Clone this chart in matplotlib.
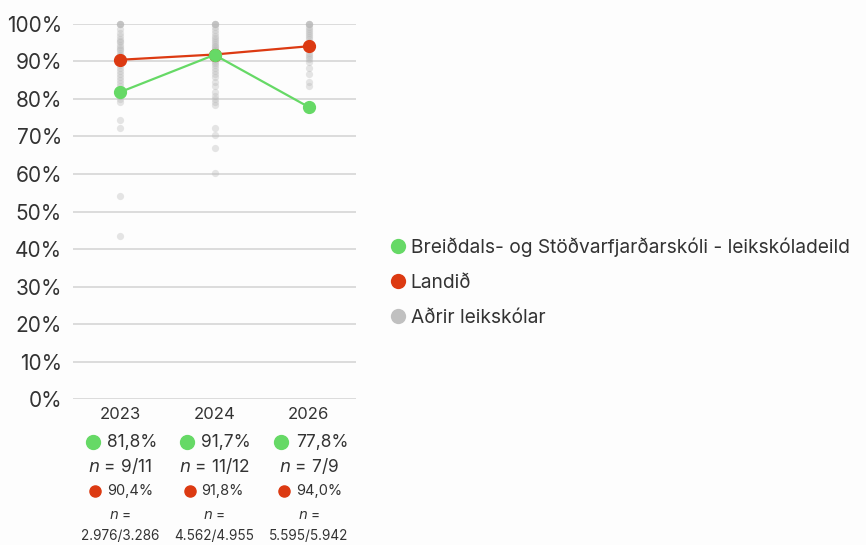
import matplotlib.pyplot as plt
from matplotlib.lines import Line2D

plt.rcParams['font.family'] = ['Inter', 'DejaVu Sans']

# ---------------- data ----------------
years = ['2023', '2024', '2026']
school_pct = [81.8, 91.7, 77.8]
country_pct = [90.4, 91.8, 94.0]
school_n = ['9/11', '11/12', '7/9']
country_n = ['2.976/3.286', '4.562/4.955', '5.595/5.942']
school_lbl = ['81,8%', '91,7%', '77,8%']
country_lbl = ['90,4%', '91,8%', '94,0%']

others_2023 = [100, 100, 100, 100, 98.5, 97.6, 96.8, 96, 95.5, 95, 94.4, 93.8, 93.3, 92.9,
               92.3, 91.7, 91.3, 90.9, 90, 89.5, 88.9, 88.2, 87.5, 86.7, 85.7, 85, 84.2,
               83.3, 82.4, 81.8, 80.8, 80, 79.2, 74.4, 72.2, 54.2, 43.6]
others_2024 = [100, 100, 100, 100, 99, 98.2, 97.5, 96.8, 96.2, 95.7, 95.2, 94.7, 94.1, 93.8,
               93.3, 92.9, 92.3, 91.7, 90.9, 90.5, 90, 89.5, 88.9, 88.2, 87.5, 86.7, 85.7,
               84.6, 83.3, 81.8, 80.8, 80, 79.2, 78.4, 72.2, 70.4, 66.8, 60.2]
others_2026 = [100, 100, 100, 100, 99.1, 98.5, 98, 97.4, 96.9, 96.4, 95.8, 95.2, 94.7, 94.1,
               93.5, 92.9, 92.3, 91.7, 91.2, 90.5, 89.9, 88.1, 86.5, 84.6, 83.5]
others = [others_2023, others_2024, others_2026]

legend_labels = ['Breiðdals- og Stöðvarfjarðarskóli - leikskóladeild', 'Landið', 'Aðrir leikskólar']

GREEN = '#66d966'
RED = '#dc3a12'
GRAY = '#b8b8b8'
TXT = '#333333'

# ---------------- figure ----------------
fig = plt.figure(figsize=(8.66, 5.45), dpi=100)
fig.patch.set_facecolor('#fdfdfd')
ax = fig.add_axes([0.0843, 0.2673, 0.3268, 0.6892])
ax.set_facecolor('#fdfdfd')

x = list(range(len(years)))

# aðrir leikskólar
for i, vals in enumerate(others):
    ax.plot([i] * len(vals), vals, 'o', color=GRAY, alpha=0.35, markersize=5.2,
            markeredgewidth=0, clip_on=False, zorder=2)

ax.plot(x, country_pct, '-o', color=RED, lw=1.6, markersize=8.5, clip_on=False, zorder=3)
ax.plot(x, school_pct, '-o', color=GREEN, lw=1.6, markersize=8.5, clip_on=False, zorder=4)

ax.set_xlim(-0.5, 2.5)
ax.set_ylim(0, 100)
ax.set_yticks(range(0, 101, 10))
ax.set_yticklabels([f'{v}%' for v in range(0, 101, 10)], fontsize=15, color=TXT)
ax.set_xticks([])
ax.grid(axis='y', color='#dcdcdc', lw=1.4)
ax.set_axisbelow(True)
ax.tick_params(axis='y', length=0, pad=8)
for s in ax.spines.values():
    s.set_visible(False)

# texti undir ásnum
tr = ax.get_xaxis_transform()
H = 375.6  # hæð ása í px
def ypos(py):
    return (399.3 - py) / H

for i in range(len(years)):
    ax.text(i, ypos(414), years[i], ha='center', va='center', fontsize=12, color=TXT, transform=tr)
    ax.plot(i - 0.29, ypos(442), 'o', color=GREEN, markersize=10, transform=tr, clip_on=False)
    ax.text(i - 0.14, ypos(442), school_lbl[i], ha='left', va='center', fontsize=12.5,
            color=TXT, transform=tr)
    ax.text(i, ypos(466), '$n$ = ' + school_n[i], ha='center', va='center', fontsize=12.5,
            color=TXT, transform=tr)
    ax.plot(i - 0.263, ypos(491), 'o', color=RED, markersize=8, transform=tr, clip_on=False)
    ax.text(i - 0.14, ypos(491), country_lbl[i], ha='left', va='center', fontsize=10.5,
            color=TXT, transform=tr)
    ax.text(i, ypos(515), '$n$ =', ha='center', va='center', fontsize=10, color=TXT, transform=tr)
    ax.text(i, ypos(536), country_n[i], ha='center', va='center', fontsize=9.8, color=TXT, transform=tr)

# legend
handles = [Line2D([], [], ls='', marker='o', color=c, markersize=11, markeredgewidth=0)
           for c in [GREEN, RED, '#c0c0c0']]
fig.legend(handles, legend_labels, loc='upper left', bbox_to_anchor=(0.44, 0.583),
           frameon=False, fontsize=13.8, labelspacing=0.9, handletextpad=0.25,
           handlelength=0.8, borderpad=0, labelcolor=TXT)

plt.savefig('out.png', dpi=100, facecolor=fig.get_facecolor())
plt.close()
